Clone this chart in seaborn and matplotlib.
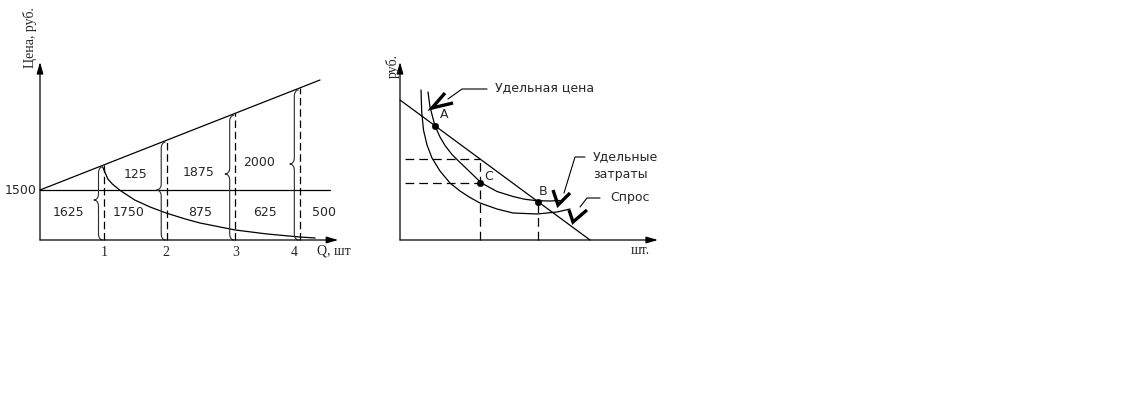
import numpy as np
import matplotlib
matplotlib.use("Agg")
import matplotlib.pyplot as plt
import seaborn as sns

sns.set_theme(style="white")
plt.rcParams["font.family"] = ["DejaVu Sans"]
SERIF = ["Liberation Serif", "DejaVu Serif"]

## Left chart: price (rub.) against quantity Q
base_price = 1500
q_top = [0.0, 4.375]
price_top = [1500, 4800]
q_base = [0.0, 4.53]
q_cost = [0.98, 1.0, 1.02, 1.06, 1.13, 1.25, 1.48, 1.72, 1.97, 2.27, 2.5, 3.05, 3.55, 4.06, 4.3]
cost_curve = [2190, 2100, 2010, 1830, 1680, 1490, 1200, 990, 810, 630, 510, 300, 180, 90, 60]
q_marks = [1.0, 1.98, 3.05, 4.06]
q_ticks = [1.0, 1.97, 3.05, 3.97]
tick_labels = ["1", "2", "3", "4"]
brace_mid = [1200, 1500, 1980, 2280]
low_labels = ["1625", "1750", "875", "625", "500"]
low_x = [0.44, 1.39, 2.5, 3.52, 4.44]
low_y = 840
up_labels = ["125", "1875", "2000"]
up_x = [1.5, 2.48, 3.42]
up_y = [1950, 2040, 2340]

## Right chart: unit price / unit costs / demand
demand_x = [0, 19]
demand_y = [14, 0]
price_x = [2.8, 3.0, 3.5, 4.0, 4.5, 5.2, 5.8, 7.0, 8.1, 9.7, 11.3, 12.5, 13.7, 15.0, 16.0]
price_y = [14.8, 13.3, 11.4, 10.3, 9.45, 8.55, 7.95, 6.8, 5.73, 4.85, 4.35, 4.07, 3.93, 3.9, 3.95]
cost_x = [2.1, 2.17, 2.35, 2.7, 3.2, 4.0, 5.0, 6.0, 7.0, 8.0, 9.7, 11.3, 13.7, 15.7, 17.0]
cost_y = [15.0, 12.8, 11.0, 9.5, 8.2, 6.9, 5.7, 4.9, 4.25, 3.7, 3.1, 2.7, 2.6, 2.8, 3.1]
pt_names = ["A", "C", "B"]
pt_x = [3.5, 8.0, 13.77]
pt_y = [11.4, 5.7, 3.85]
pt_label_dx = [0.93, 0.83, 0.5]
pt_label_dy = [1.1, 0.63, 0.98]

callouts = ["Удельная цена", "Удельные\nзатраты", "Спрос"]
callout_xy = [(9.5, 15.2), (19.3, 7.45), (21.0, 4.3)]
leaders = [([4.8, 6.2, 8.7], [14.1, 15.1, 15.1]),
           ([16.4, 17.5, 18.5], [4.7, 8.3, 8.3]),
           ([18.0, 18.7, 20.0], [3.3, 4.2, 4.2])]
checks = [([4.5, 3.2, 5.3], [14.7, 13.2, 13.7]),
          ([15.3, 15.8, 17.0], [5.0, 3.5, 4.7]),
          ([16.9, 17.3, 18.7], [3.0, 1.8, 3.0])]


def line(ax, x, y, **kw):
    kw.setdefault("color", "black")
    kw.setdefault("lw", 0.9)
    sns.lineplot(x=x, y=y, ax=ax, estimator=None, sort=False, legend=False, **kw)


def arrow(ax, start, end):
    ax.annotate("", xy=end, xytext=start,
                arrowprops=dict(arrowstyle="-|>,head_length=0.7,head_width=0.2",
                                lw=0.9, color="black", shrinkA=0, shrinkB=0,
                                mutation_scale=10))


def brace(x, y0, y1, ym, sx, sy):
    # curly brace "{" : spine at x, ends curl right, cusp points left (sizes in px)
    t = np.linspace(0, np.pi / 2, 14)
    h = (y1 - y0) / sy
    c = (ym - y0) / sy
    ew, eh, cw, ch = 4.0, 6.0, 4.5, 6.0
    u = np.concatenate([ew - ew * np.sin(t), -cw + cw * np.cos(t),
                        -cw + cw * np.cos(t[::-1]), ew - ew * np.cos(t)])
    v = np.concatenate([eh - eh * np.cos(t), c - ch + ch * np.sin(t),
                        c + ch - ch * np.sin(t[::-1]), h - eh + eh * np.sin(t)])
    return x + u * sx, y0 + v * sy


fig = plt.figure(figsize=(11.44, 4.16), dpi=100)
W, H = 1144, 416

# left panel: 64 px per unit of Q, 30 rub. per px
ax1 = fig.add_axes([0 / W, (H - 270) / H, 360 / W, 270 / H])
ax1.set_xlim(-40 / 64, 320 / 64)
ax1.set_ylim(-900, 7200)
ax1.set_axis_off()

arrow(ax1, (0, 0), (0, 5340))
arrow(ax1, (0, 0), (4.66, 0))
line(ax1, q_base, [base_price, base_price])
line(ax1, q_top, price_top)
line(ax1, q_cost, cost_curve)

for q, mid in zip(q_marks, brace_mid):
    top = np.interp(q, q_top, price_top)
    line(ax1, [q, q], [0, top], linestyle=(0, (6, 3)))
    bx, by = brace(q - 5.5 / 64, 0, top - 60, mid, 1 / 64, 30)
    line(ax1, bx, by, lw=0.8, color="#2a2a2a")

for q, lab in zip(q_ticks, tick_labels):
    ax1.text(q, -370, lab, ha="center", va="center", fontsize=10, family=SERIF)
ax1.text(4.59, -330, "Q, шт", ha="center", va="center", fontsize=10, family=SERIF)
ax1.text(-0.16, 6060, "Цена, руб.", rotation=90, ha="center", va="center",
         fontsize=10, family=SERIF)
ax1.text(-0.06, base_price, str(base_price), ha="right", va="center", fontsize=9)
for x, lab in zip(low_x, low_labels):
    ax1.text(x, low_y, lab, ha="center", va="center", fontsize=9)
for x, y, lab in zip(up_x, up_y, up_labels):
    ax1.text(x, y, lab, ha="center", va="center", fontsize=9)

# right panel: 10 px per unit
ax2 = fig.add_axes([370 / W, (H - 270) / H, 310 / W, 270 / H])
ax2.set_xlim(-3, 28)
ax2.set_ylim(-3, 24)
ax2.set_axis_off()

arrow(ax2, (0, 0), (0, 17.8))
arrow(ax2, (0, 0), (25.8, 0))
line(ax2, demand_x, demand_y)
line(ax2, price_x, price_y)
line(ax2, cost_x, cost_y)

xc, yc = pt_x[1], pt_y[1]
yd = np.interp(xc, demand_x, demand_y)
dash = (0, (7, 4))
line(ax2, [0.5, xc], [yd, yd], linestyle=dash)
line(ax2, [0.5, xc], [yc, yc], linestyle=dash)
line(ax2, [xc, xc], [0, yd], linestyle=dash)
line(ax2, [pt_x[2], pt_x[2]], [0, pt_y[2]], linestyle=dash)

sns.scatterplot(x=pt_x, y=pt_y, ax=ax2, color="black", s=22, edgecolor="black",
                zorder=5, legend=False)
for name, x, y, dx, dy in zip(pt_names, pt_x, pt_y, pt_label_dx, pt_label_dy):
    ax2.text(x + dx, y + dy, name, ha="center", va="center", fontsize=9)

for (lx, ly) in leaders:
    line(ax2, lx, ly, lw=0.8)
for (cx, cy) in checks:
    line(ax2, cx, cy, lw=2.4, solid_joinstyle="miter", solid_capstyle="butt")
for text, (x, y) in zip(callouts, callout_xy):
    ax2.text(x, y, text, ha="left", va="center", fontsize=9, linespacing=1.45)

ax2.text(-0.7, 17.4, "руб.", rotation=90, ha="center", va="center",
         fontsize=10, family=SERIF)
ax2.text(24.0, -1.1, "шт.", ha="center", va="center", fontsize=10, family=SERIF)

fig.savefig("out.png", dpi=100, facecolor="white")
